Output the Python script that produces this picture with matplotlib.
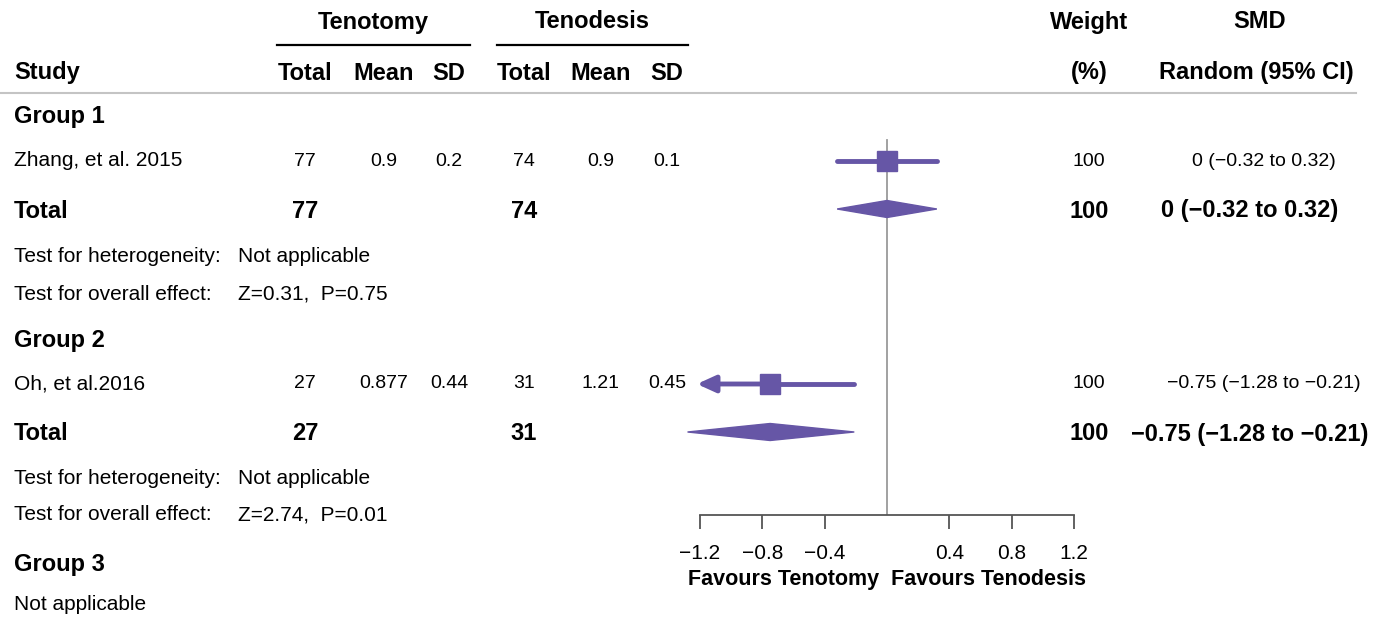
import matplotlib
matplotlib.use("Agg")
import matplotlib.pyplot as plt

plt.rcParams['font.family'] = ['Liberation Sans', 'DejaVu Sans']

# data
studies = ["Zhang, et al. 2015", "Oh, et al.2016"]
groups = ["Group 1", "Group 2", "Group 3"]
teno_total = [77, 27]
teno_mean = ["0.9", "0.877"]
teno_sd = ["0.2", "0.44"]
tend_total = [74, 31]
tend_mean = ["0.9", "1.21"]
tend_sd = ["0.1", "0.45"]
weights = [100, 100]
smd = [0, -0.75]
ci_lo = [-0.32, -1.28]
ci_hi = [0.32, -0.21]
pooled = [0, -0.75]
pooled_lo = [-0.32, -1.28]
pooled_hi = [0.32, -0.21]
het_text = ["Not applicable", "Not applicable"]
overall_text = ["Z=0.31,  P=0.75", "Z=2.74,  P=0.01"]
ticks = [-1.2, -0.8, -0.4, 0.4, 0.8, 1.2]

purple = "#6656a6"

# layout (pixel rows)
W, H = 1382, 622
group_y = [117, 340, 564]
study_y = [161, 384]
total_y = [211, 434]
het_y = [256, 478]
over_y = [294, 515]
axis_y = 515

x_study = 14
x_teno = [305, 384, 449]
x_tend = [524, 601, 667]
x_w = 1089
x_smd = 1256
x_test = 238


def fmt(v):
    return f"{v:g}".replace("-", "\u2212")


fig = plt.figure(figsize=(W / 100, H / 100), dpi=100)
bg = fig.add_axes([0, 0, 1, 1])
bg.set_xlim(0, W)
bg.set_ylim(H, 0)
bg.axis("off")

fw = 15     # regular words
fn = 14     # regular numbers
fb = 17     # bold

# header
bg.text(373, 22, "Tenotomy", ha="center", va="center", fontsize=fb, fontweight="bold")
bg.text(592, 22, "Tenodesis", ha="center", va="center", fontsize=fb, fontweight="bold")
bg.plot([277, 470], [45, 45], color="black", lw=1.6)
bg.plot([497, 688], [45, 45], color="black", lw=1.6)
bg.text(x_w, 22, "Weight", ha="center", va="center", fontsize=fb, fontweight="bold")
bg.text(x_smd + 4, 22, "SMD", ha="center", va="center", fontsize=fb, fontweight="bold")
bg.text(x_study, 73, "Study", ha="left", va="center", fontsize=fb, fontweight="bold")
for x, lab in zip(x_teno + x_tend, ["Total", "Mean", "SD"] * 2):
    bg.text(x, 73, lab, ha="center", va="center", fontsize=fb, fontweight="bold")
bg.text(x_w, 73, "(%)", ha="center", va="center", fontsize=fb, fontweight="bold")
bg.text(x_smd, 73, "Random (95% CI)", ha="center", va="center", fontsize=fb, fontweight="bold")
bg.plot([0, 1356], [93, 93], color="#c4c4c4", lw=1.5)

for gy, g in zip(group_y, groups):
    bg.text(x_study, gy, g, ha="left", va="center", fontsize=fb, fontweight="bold")
bg.text(x_study, 605, "Not applicable", ha="left", va="center", fontsize=fw)

for i in range(len(studies)):
    y = study_y[i]
    bg.text(x_study, y, studies[i], ha="left", va="center", fontsize=fw)
    vals = [teno_total[i], teno_mean[i], teno_sd[i], tend_total[i], tend_mean[i], tend_sd[i]]
    for x, v in zip(x_teno + x_tend, vals):
        bg.text(x, y, str(v), ha="center", va="center", fontsize=fn)
    bg.text(x_w, y, str(weights[i]), ha="center", va="center", fontsize=fn)
    bg.text(x_smd + 8, y, f"{fmt(smd[i])} ({fmt(ci_lo[i])} to {fmt(ci_hi[i])})",
            ha="center", va="center", fontsize=fn)

    y = total_y[i]
    bg.text(x_study, y, "Total", ha="left", va="center", fontsize=fb, fontweight="bold")
    bg.text(x_teno[0], y, str(teno_total[i]), ha="center", va="center", fontsize=fb, fontweight="bold")
    bg.text(x_tend[0], y, str(tend_total[i]), ha="center", va="center", fontsize=fb, fontweight="bold")
    bg.text(x_w, y, str(weights[i]), ha="center", va="center", fontsize=fb, fontweight="bold")
    bg.text(x_smd - 6, y, f"{fmt(pooled[i])} ({fmt(pooled_lo[i])} to {fmt(pooled_hi[i])})",
            ha="center", va="center", fontsize=fb, fontweight="bold")

    bg.text(x_study, het_y[i], "Test for heterogeneity:", ha="left", va="center", fontsize=fw)
    bg.text(x_test, het_y[i], het_text[i], ha="left", va="center", fontsize=fw)
    bg.text(x_study, over_y[i], "Test for overall effect:", ha="left", va="center", fontsize=fw)
    bg.text(x_test, over_y[i], overall_text[i], ha="left", va="center", fontsize=fw)

# forest panel
x0, x1 = 700, 1074
ax = fig.add_axes([x0 / W, (H - axis_y) / H, (x1 - x0) / W, axis_y / H])
ax.patch.set_alpha(0)
ax.set_xlim(-1.2, 1.2)
ax.set_ylim(axis_y, 0)
for s in ["top", "left", "right"]:
    ax.spines[s].set_visible(False)
ax.spines["bottom"].set_color("#555555")
ax.spines["bottom"].set_linewidth(1.3)
ax.set_yticks([])
ax.set_xticks(ticks)
ax.set_xticklabels([fmt(t) for t in ticks], fontsize=15)
ax.tick_params(axis="x", direction="out", length=10, width=1.3, color="#555555", pad=11)
ax.set_xlabel("Favours Tenotomy  Favours Tenodesis", fontsize=15.5, fontweight="bold", labelpad=4)
ax.plot([0, 0], [140, axis_y], color="#9a9a9a", lw=1.3, zorder=1)

for i in range(len(studies)):
    y = study_y[i]
    lo = max(ci_lo[i], -1.2)
    hi = min(ci_hi[i], 1.2)
    if ci_lo[i] < -1.2:
        ax.annotate("", xy=(-1.22, y), xytext=(smd[i], y), annotation_clip=False,
                    arrowprops=dict(arrowstyle="-|>,head_length=1.1,head_width=0.5",
                                    color=purple, lw=3.5, shrinkA=0, shrinkB=0,
                                    joinstyle="round"), zorder=3)
        ax.plot([smd[i], hi], [y, y], color=purple, lw=3.5, solid_capstyle="round", zorder=3)
    else:
        ax.plot([lo, hi], [y, y], color=purple, lw=3.5, solid_capstyle="round", zorder=3)
    ax.plot([smd[i]], [y], marker="s", ms=14.5, color=purple, zorder=4)

    y = total_y[i] - 2
    h = 8.5
    ax.fill([pooled_lo[i], pooled[i], pooled_hi[i], pooled[i]],
            [y, y - h, y, y + h], color=purple, zorder=3, clip_on=False)

fig.savefig("out.png", dpi=100)
